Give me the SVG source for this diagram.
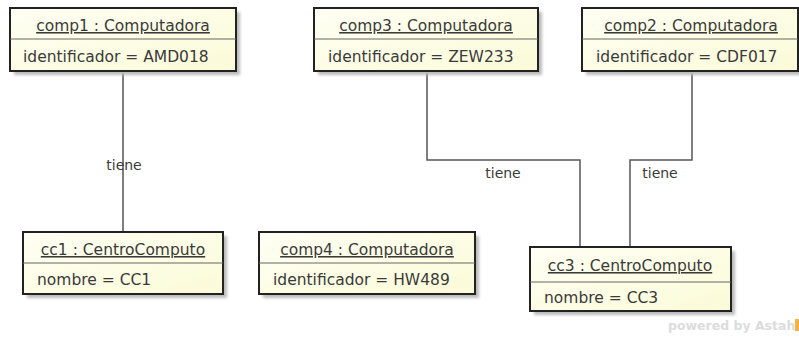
<svg xmlns="http://www.w3.org/2000/svg" width="799" height="343" viewBox="0 0 799 343">
<defs>
<linearGradient id="fillg" x1="0" y1="0" x2="1" y2="1">
<stop offset="0" stop-color="#FFFFF4"/>
<stop offset="1" stop-color="#FBFBD8"/>
</linearGradient>
<filter id="sh" x="-10%" y="-20%" width="130%" height="160%">
<feGaussianBlur stdDeviation="1.5"/>
</filter>
<style>
.shadow{fill:#bbbbbb;filter:url(#sh);}
.box{fill:url(#fillg);stroke:#222;stroke-width:2;}
.div{stroke:#666;stroke-width:1;}
.t{font-family:"DejaVu Sans",sans-serif;font-size:15.5px;fill:#3a3a3a;}
.title{text-anchor:middle;text-decoration:underline;}
.conn{fill:none;stroke:#555;stroke-width:1.5;}
.lbl{font-family:"DejaVu Sans",sans-serif;font-size:14px;fill:#3a3a3a;text-anchor:middle;}
.wm{font-family:"DejaVu Sans",sans-serif;font-size:12.5px;font-weight:bold;fill:#dcdcdc;}
</style>
</defs>
<rect width="799" height="343" fill="#fff"/>
<g id="connectors">
<line class="conn" x1="123" y1="71" x2="123" y2="232"/>
<polyline class="conn" points="427,71 427,160 580,160 580,247"/>
<polyline class="conn" points="692,71 692,160 630,160 630,247"/>
<text class="lbl" x="124" y="170">tiene</text>
<text class="lbl" x="503" y="178">tiene</text>
<text class="lbl" x="660" y="178">tiene</text>
</g>
<g id="comp1">
<rect class="shadow" x="14" y="12" width="226" height="63"/>
<rect class="box" x="10" y="8" width="226" height="63"/>
<line class="div" x1="10" y1="39" x2="236" y2="39"/>
<text class="t title" x="123" y="31">comp1 : Computadora</text>
<text class="t" x="23" y="62">identificador = AMD018</text>
</g>
<g id="comp3">
<rect class="shadow" x="318" y="12" width="224" height="63"/>
<rect class="box" x="314" y="8" width="224" height="63"/>
<line class="div" x1="314" y1="39" x2="538" y2="39"/>
<text class="t title" x="426" y="31">comp3 : Computadora</text>
<text class="t" x="328" y="62">identificador = ZEW233</text>
</g>
<g id="comp2">
<rect class="shadow" x="586" y="12" width="216" height="63"/>
<rect class="box" x="582" y="8" width="216" height="63"/>
<line class="div" x1="582" y1="39" x2="798" y2="39"/>
<text class="t title" x="691" y="31">comp2 : Computadora</text>
<text class="t" x="596" y="62">identificador = CDF017</text>
</g>
<g id="cc1">
<rect class="shadow" x="27" y="236" width="200" height="62"/>
<rect class="box" x="23" y="232" width="200" height="62"/>
<line class="div" x1="23" y1="263" x2="223" y2="263"/>
<text class="t title" x="123" y="255">cc1 : CentroComputo</text>
<text class="t" x="37" y="285">nombre = CC1</text>
</g>
<g id="comp4">
<rect class="shadow" x="263" y="236" width="216" height="62"/>
<rect class="box" x="259" y="232" width="216" height="62"/>
<line class="div" x1="259" y1="263" x2="475" y2="263"/>
<text class="t title" x="367" y="255">comp4 : Computadora</text>
<text class="t" x="273" y="285">identificador = HW489</text>
</g>
<g id="cc3">
<rect class="shadow" x="534" y="251" width="201" height="64"/>
<rect class="box" x="530" y="247" width="201" height="64"/>
<line class="div" x1="530" y1="282" x2="731" y2="282"/>
<text class="t title" x="630" y="271">cc3 : CentroComputo</text>
<text class="t" x="544" y="303">nombre = CC3</text>
</g>
<g id="watermark">
<text class="wm" x="668" y="330">powered by Astah</text>
<rect x="795" y="319" width="4" height="12" fill="#f5b342"/>
</g>
</svg>
